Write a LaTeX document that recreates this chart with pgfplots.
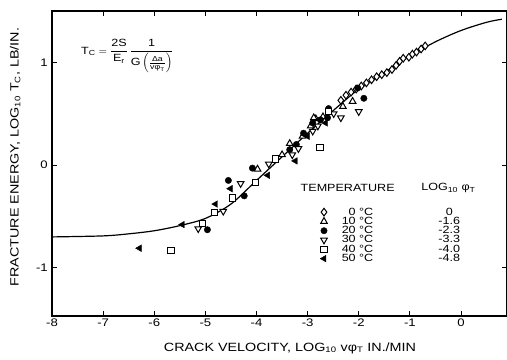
\documentclass[border=0pt]{standalone}
\usepackage{fontspec}
\setmainfont{Liberation Sans}[FakeStretch=1.2]
\usepackage{amsmath}
\usepackage{pgfplots}
\pgfplotsset{compat=1.18}

\begin{document}
\begin{tikzpicture}
\begin{axis}[
  scale only axis, width=455bp, height=305bp,
  xmin=-8, xmax=0.9, ymin=-1.47, ymax=1.5,
  xtick={-8,-7,-6,-5,-4,-3,-2,-1,0},
  xticklabels={-8,-7,-6,-5,-4,-3,-2,-1,0},
  ytick={-1,0,1}, yticklabels={-1,0,1},
  tick align=inside, major tick length=5bp,
  axis line style={line width=1.1bp},
  every tick/.style={line width=0.9bp, black},
  ticklabel style={font=\fontsize{11}{12}\selectfont},
  xticklabel style={inner sep=1bp, yshift=-2bp},
  yticklabel style={inner sep=1bp, xshift=-3bp},
  xlabel={CRACK VELOCITY, LOG\textsubscript{10} vφ\textsubscript{T} IN./MIN},
  ylabel={FRACTURE ENERGY, LOG\textsubscript{10} T\textsubscript{C}, LB/IN.},
  label style={font=\fontsize{12}{13}\selectfont},
  xlabel style={at={(axis description cs:0.523,-0.105)}, anchor=center},
  ylabel style={at={(axis description cs:-0.081,0.521)}, anchor=center},
  legend style={draw=none, fill=none, inner sep=0pt,
    at={(axis description cs:0.589,0.354)}, anchor=north west,
    row sep=1.5bp, column sep=0bp,
    nodes={inner sep=0pt, text height=6.8bp, text depth=1bp, font=\fontsize{10.5}{11}\selectfont}},
  legend cell align=left,
  legend image code/.code={\draw[#1] plot coordinates {(0bp,0bp)};},
  clip=false,
]
% master curve
\addplot[black, line width=1.2bp, smooth, forget plot] coordinates {
 (-8,-0.70) (-7,-0.69) (-6.5,-0.67) (-6,-0.64) (-5.5,-0.59) (-5,-0.52)
 (-4.5,-0.38) (-4,-0.15) (-3.5,0.08) (-3,0.31) (-2.5,0.53) (-2,0.74)
 (-1.5,0.90) (-1,1.06) (-0.5,1.20) (0,1.31) (0.5,1.39) (0.8,1.42)};
% 0 C
\addplot[only marks, mark=diamond*, mark size=3.8bp, black, fill=white, mark options={line width=1bp}] coordinates {
 (-2.35,0.63) (-2.25,0.68) (-2.15,0.71) (-2.05,0.74) (-1.95,0.77) (-1.85,0.80) (-1.75,0.83)
 (-1.65,0.86) (-1.55,0.88) (-1.45,0.90) (-1.35,0.93) (-1.27,0.97) (-1.20,1.01)
 (-1.13,1.04) (-1.02,1.05) (-0.95,1.08) (-0.87,1.10) (-0.78,1.13) (-0.70,1.16)};
\addlegendentry{\makebox[46bp][r]{0 °C}\hspace{50bp}\makebox[52bp][c]{0}}
% 10 C
\addplot[only marks, mark=triangle*, mark size=3.8bp, black, fill=white, mark options={line width=1bp}] coordinates {
 (-3.98,-0.04) (-3.50,0.10) (-3.35,0.21) (-3.10,0.28) (-2.94,0.38) (-2.84,0.45) (-2.88,0.46)
 (-2.70,0.47) (-2.31,0.57) (-2.12,0.62)};
\addlegendentry{\makebox[46bp][r]{10 °C}\hspace{50bp}\makebox[52bp][c]{-1.6}}
% 20 C
\addplot[only marks, mark=*, mark size=3.2bp, black] coordinates {
 (-4.96,-0.63) (-4.55,-0.15) (-4.24,-0.30) (-4.08,-0.03) (-3.35,0.15) (-3.22,0.20) (-3.08,0.31)
 (-2.90,0.41) (-2.75,0.44) (-2.61,0.46) (-2.59,0.55) (-2.02,0.75) (-1.90,0.65)};
\addlegendentry{\makebox[46bp][r]{20 °C}\hspace{50bp}\makebox[52bp][c]{-2.3}}
% 30 C
\addplot[only marks, mark=triangle*, mark size=3.8bp, black, fill=white, mark options={rotate=180, line width=1bp}] coordinates {
 (-5.14,-0.62) (-4.65,-0.45) (-4.31,-0.18) (-3.76,0.01) (-3.30,0.10) (-3.18,0.16) (-2.90,0.33)
 (-2.80,0.38) (-2.49,0.50) (-2.35,0.46) (-2.00,0.52)};
\addlegendentry{\makebox[46bp][r]{30 °C}\hspace{50bp}\makebox[52bp][c]{-3.3}}
% 40 C
\addplot[only marks, mark=square*, mark size=3.2bp, black, fill=white, mark options={line width=1bp}] coordinates {
 (-5.67,-0.83) (-5.06,-0.57) (-4.82,-0.46) (-4.47,-0.32) (-4.02,-0.17) (-3.63,0.06)
 (-2.76,0.17) (-2.59,0.52)};
\addlegendentry{\makebox[46bp][r]{40 °C}\hspace{50bp}\makebox[52bp][c]{-4.0}}
% 50 C
\addplot[only marks, mark=triangle*, mark size=3.8bp, black, mark options={rotate=90}] coordinates {
 (-6.29,-0.81) (-5.45,-0.58) (-4.80,-0.38) (-4.51,-0.23) (-3.78,-0.10) (-3.24,0.04)
 (-3.00,0.28) (-2.65,0.41)};
\addlegendentry{\makebox[46bp][r]{50 °C}\hspace{50bp}\makebox[52bp][c]{-4.8}}

\node[font=\fontsize{10.5}{11}\selectfont] at (axis cs:-2.216,-0.223) {TEMPERATURE};
\node[font=\fontsize{10.5}{11}\selectfont] at (axis cs:-0.245,-0.223) {LOG\textsubscript{10} φ\textsubscript{T}};
\node[anchor=west, font=\fontsize{10.5}{12}\selectfont] at (axis cs:-7.5,1.06)
  {$\text{T}_{\text{C}} = \dfrac{\text{2S}}{\text{E}_{\text{r}}}\,\dfrac{\text{1}}{\text{G}\left(\frac{\text{Δa}}{\text{vφ}_{\text{T}}}\right)}$};
\end{axis}
\pgfresetboundingbox
\path (current axis.south west) ++(-52bp,-44bp) rectangle ([yshift=11bp]current axis.north east);
\end{tikzpicture}
\end{document}
